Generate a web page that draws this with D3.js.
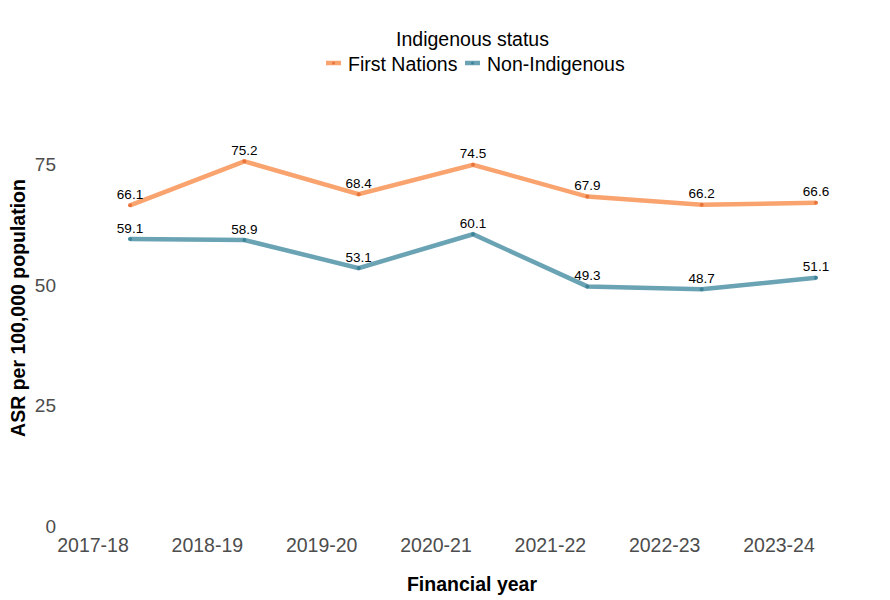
<!DOCTYPE html>
<html>
<head>
<meta charset="utf-8">
<script src="https://cdn.jsdelivr.net/npm/d3@7"></script>
<style>
  body { margin: 0; background: #fff; }
  svg text { font-family: Arial, "Liberation Sans", sans-serif; }
</style>
</head>
<body>
<div id="plot"></div>
<script>
// data
const years = ['2017-18', '2018-19', '2019-20', '2020-21', '2021-22', '2022-23', '2023-24'];
const firstNations = [66.1, 75.2, 68.4, 74.5, 67.9, 66.2, 66.6];
const nonIndigenous = [59.1, 58.9, 53.1, 60.1, 49.3, 48.7, 51.1];
const yTicks = [0, 25, 50, 75];

const series = [
  { name: 'First Nations', values: firstNations, line: '#F9A36F', dot: '#E8743B' },
  { name: 'Non-Indigenous', values: nonIndigenous, line: '#6AA3B4', dot: '#3D8499' }
];

let [ width, height ] = [890, 600];
let svg = d3.select('#plot').append('svg')
            .attr('width', width)
            .attr('height', height);

let scX = d3.scalePoint()
            .domain(years)
            .range([130, 816]);

let scY = d3.scaleLinear()
            .domain([0, 75])
            .range([524.5, 162.3]);

// y tick labels
svg.append('g')
   .selectAll('text')
   .data(yTicks)
   .join('text')
   .attr('x', 56)
   .attr('y', d => scY(d) + 8.5)
   .attr('text-anchor', 'end')
   .attr('font-size', 19)
   .attr('fill', '#4d4d4d')
   .text(d => d);

// x tick labels (sit left of their points in the original)
svg.append('g')
   .selectAll('text')
   .data(years)
   .join('text')
   .attr('x', d => scX(d) - 37)
   .attr('y', 551.5)
   .attr('text-anchor', 'middle')
   .attr('font-size', 19.5)
   .attr('fill', '#4d4d4d')
   .text(d => d);

// axis titles
svg.append('text')
   .attr('x', 472).attr('y', 590.5)
   .attr('text-anchor', 'middle')
   .attr('font-size', 19.5).attr('font-weight', 'bold')
   .text('Financial year');

svg.append('text')
   .attr('transform', 'translate(25,308) rotate(-90)')
   .attr('text-anchor', 'middle')
   .attr('font-size', 19.5).attr('font-weight', 'bold')
   .text('ASR per 100,000 population');

let line = d3.line()
             .x((d, i) => scX(years[i]))
             .y(d => scY(d));

series.forEach(s => {
  let g = svg.append('g');
  g.append('path')
   .attr('d', line(s.values))
   .attr('fill', 'none')
   .attr('stroke', s.line)
   .attr('stroke-width', 4.5);
  g.selectAll('circle')
   .data(s.values)
   .join('circle')
   .attr('cx', (d, i) => scX(years[i]))
   .attr('cy', d => scY(d))
   .attr('r', 2)
   .attr('fill', s.dot);
  g.selectAll('text')
   .data(s.values)
   .join('text')
   .attr('x', (d, i) => scX(years[i]))
   .attr('y', d => scY(d) - 6.5)
   .attr('text-anchor', 'middle')
   .attr('font-size', 13.5)
   .attr('fill', '#000')
   .text(d => d.toFixed(1));
});

// legend
svg.append('text')
   .attr('x', 472.5).attr('y', 46)
   .attr('text-anchor', 'middle')
   .attr('font-size', 19.5)
   .text('Indigenous status');

let legendX = [326, 465];
series.forEach((s, i) => {
  let lg = svg.append('g').attr('transform', `translate(${legendX[i]},63)`);
  lg.append('line')
    .attr('x1', 0).attr('x2', 15)
    .attr('stroke', s.line).attr('stroke-width', 4.5);
  lg.append('circle')
    .attr('cx', 7.5).attr('r', 1.5).attr('fill', s.dot);
  lg.append('text')
    .attr('x', 22).attr('y', 7.5)
    .attr('font-size', 19.5)
    .text(s.name);
});
</script>
</body>
</html>
